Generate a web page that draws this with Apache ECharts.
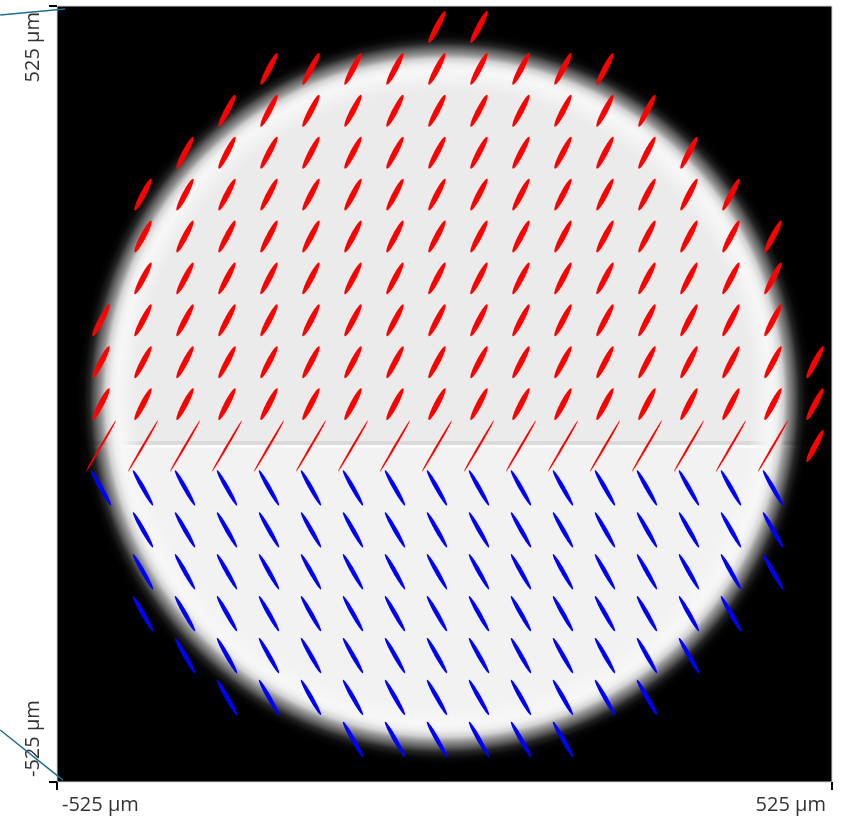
<!DOCTYPE html>
<html><head><meta charset="utf-8">
<script src="https://cdn.jsdelivr.net/npm/echarts@6/dist/echarts.min.js"></script>
<style>html,body{margin:0;padding:0;background:#fff}#c{width:841px;height:819px}</style>
</head><body><div id="c"></div>
<script>
// ---- data ----
const axisMin = -525, axisMax = 525;
const tickValues = [-525, 525];
const tickLabels = ['-525 µm', '525 µm'];

// ellipse grid positions (µm)
const gridX = [-465.4, -408.5, -351.6, -294.7, -237.8, -180.9, -124.0, -67.1, -10.2, 46.7, 103.6, 160.5, 217.4, 274.3, 331.2, 388.1, 445.0, 501.9];
const gridY = [496.6, 439.9, 383.2, 326.5, 269.8, 213.1, 156.4, 99.7, 43.0, -13.7, -70.4, -127.1, -183.8, -240.5, -297.2, -353.9, -410.6, -467.3];
// first / last column index with an ellipse, per row
const rowStart = [8, 4, 3, 2, 1, 1, 1, 0, 0, 0, 0, 0, 1, 1, 1, 2, 3, 6];
const rowEnd   = [9, 12, 13, 14, 15, 16, 16, 16, 17, 17, 16, 16, 16, 16, 15, 14, 13, 11];
// polarization ellipse per row: semi-major (µm), semi-minor (µm), orientation (deg), colour index
const rowMajor = [24.3, 24.3, 24.3, 24.3, 24.3, 24.3, 24.3, 24.3, 24.3, 24.3, 40.3, 27.5, 27.5, 27.5, 27.5, 27.5, 27.5, 27.5];
const rowMinor = [3.9, 3.9, 3.9, 3.9, 3.9, 3.9, 3.9, 3.9, 3.9, 3.9, 1.4, 3.0, 3.0, 3.0, 3.0, 3.0, 3.0, 3.0];
const rowAngle = [62.5, 62.5, 62.5, 62.5, 62.5, 62.5, 62.5, 62.5, 62.5, 62.5, 59.7, -60.5, -60.5, -60.5, -60.5, -60.5, -60.5, -60.5];
const rowColor = [0, 0, 0, 0, 0, 0, 0, 0, 0, 0, 0, 1, 1, 1, 1, 1, 1, 1];
// extra ellipse: [col, row, semi-major, semi-minor, angle, colour]
const extraEllipses = [[17, 10, 24.3, 3.9, 62.5, 0]];
const handColors = ['#ff0000', '#0000ff'];

// beam intensity
const beamCenter = [0, -5];
const beamRadius = 470;
const beamSplitY = -70.4;

// stray trace segments
const traceTop = [[-602, 512.8], [-514, 520.9]];
const traceBottom = [[-602, -454.7], [-517, -522.4]];

// ---- build ----
const ellipseData = [];
for (let r = 0; r < gridY.length; r++) {
  for (let c = rowStart[r]; c <= rowEnd[r]; c++) {
    ellipseData.push([gridX[c], gridY[r], rowMajor[r], rowMinor[r], rowAngle[r], rowColor[r]]);
  }
}
extraEllipses.forEach(e => ellipseData.push([gridX[e[0]], gridY[e[1]], e[2], e[3], e[4], e[5]]));

const SOFT = 20;
function grad(cx, cy, R, rgb) {
  const Rout = R + SOFT;
  const ds = [-20, -14, -8, -3, 0, 3, 8, 14, 20];
  const al = [1, 0.97, 0.85, 0.62, 0.5, 0.38, 0.15, 0.03, 0];
  const stops = [{offset: 0, color: 'rgba(' + rgb + ',1)'}, {offset: (R - 40) / Rout, color: 'rgba(' + rgb + ',1)'}];
  ds.forEach((d, i) => stops.push({offset: (R + d) / Rout, color: 'rgba(' + (i < 3 ? '247,247,247' : rgb) + ',' + al[i] + ')'}));
  return {type: 'radial', x: cx, y: cy, r: Rout, global: true, colorStops: stops};
}
function band(cx, cy, R, y1, y2) {
  const top = Math.max(y1, cy - R), bot = Math.min(y2, cy + R);
  if (bot <= top) return null;
  const pts = [], N = 80;
  for (let i = 0; i <= N; i++) { const y = top + (bot - top) * i / N; const dx = Math.sqrt(Math.max(0, R * R - (y - cy) * (y - cy))); pts.push([cx + dx, y]); }
  for (let i = N; i >= 0; i--) { const y = top + (bot - top) * i / N; const dx = Math.sqrt(Math.max(0, R * R - (y - cy) * (y - cy))); pts.push([cx - dx, y]); }
  return pts;
}

const chart = echarts.init(document.getElementById('c'), null, {renderer: 'canvas'});
const labelStyle = {fontFamily: 'Open Sans', fontSize: 20, color: '#333', padding: [0, 6, 0, 5],
  customValues: tickValues, alignMinLabel: 'left', alignMaxLabel: 'right',
  formatter: v => v === axisMin ? tickLabels[0] : tickLabels[1]};
const tickStyle = {show: true, customValues: tickValues, length: 8, lineStyle: {color: '#000', width: 2}};
chart.setOption({
  animation: false,
  grid: {left: 57, top: 6, width: 775, height: 776, show: true, backgroundColor: '#000', borderColor: '#d4d4d4', borderWidth: 1},
  xAxis: {
    type: 'value', min: axisMin, max: axisMax,
    axisLine: {show: false, onZero: false}, splitLine: {show: false},
    axisTick: tickStyle,
    axisLabel: Object.assign({margin: 13}, labelStyle)
  },
  yAxis: {
    type: 'value', min: axisMin, max: axisMax,
    axisLine: {show: false, onZero: false}, splitLine: {show: false},
    axisTick: tickStyle,
    axisLabel: Object.assign({margin: 14, rotate: 90}, labelStyle)
  },
  series: [
    {
      type: 'custom', silent: true, z: 1,
      data: [[beamCenter[0], beamCenter[1], beamRadius, beamSplitY]],
      encode: {x: 0, y: 1},
      renderItem: function (params, api) {
        const c = api.coord([api.value(0), api.value(1)]);
        const s = api.size([1, 1]);
        const R = api.value(2) * s[0];
        const Rout = R + SOFT;
        const ys = api.coord([0, api.value(3)])[1];
        const parts = [
          [c[1] - Rout - 1, ys - 5, '235,235,235'],
          [ys - 5, ys - 1, '218,218,218'],
          [ys - 1, ys + 2, '251,251,251'],
          [ys + 2, c[1] + Rout + 1, '242,242,242']
        ];
        const children = [];
        parts.forEach(p => {
          const pts = band(c[0], c[1], Rout, p[0], p[1]);
          if (pts) children.push({type: 'polygon', shape: {points: pts}, style: {fill: grad(c[0], c[1], R, p[2])}});
        });
        return {type: 'group', children: children};
      }
    },
    {
      type: 'custom', silent: true, z: 2,
      data: ellipseData,
      encode: {x: 0, y: 1},
      renderItem: function (params, api) {
        const c = api.coord([api.value(0), api.value(1)]);
        const s = api.size([1, 1]);
        const a = api.value(2) * s[0], b = api.value(3) * s[0];
        const th = api.value(4) * Math.PI / 180;
        const pts = [];
        for (let k = 0; k < 48; k++) {
          const t = k / 48 * 2 * Math.PI;
          const ex = a * Math.cos(t), ey = b * Math.sin(t);
          pts.push([c[0] + ex * Math.cos(th) - ey * Math.sin(th), c[1] - (ex * Math.sin(th) + ey * Math.cos(th))]);
        }
        return {type: 'polygon', shape: {points: pts}, style: {fill: handColors[api.value(5)]}};
      }
    },
    {
      type: 'custom', silent: true, z: 5, clip: false,
      data: [traceTop[0].concat(traceTop[1]), traceBottom[0].concat(traceBottom[1])],
      encode: {x: [0, 2], y: [1, 3]},
      renderItem: function (params, api) {
        const o = api.coord([axisMin, axisMax]);
        const s = api.size([1, 1]);
        const p = (x, y) => [o[0] + (x - axisMin) * s[0], o[1] - (y - axisMax) * s[1]];
        return {type: 'line', shape: (function () { const a = p(api.value(0), api.value(1)), b = p(api.value(2), api.value(3)); return {x1: a[0], y1: a[1], x2: b[0], y2: b[1]}; })(),
          style: {stroke: '#1d6d92', lineWidth: 1.5}};
      }
    }
  ]
});
</script>
</body></html>
